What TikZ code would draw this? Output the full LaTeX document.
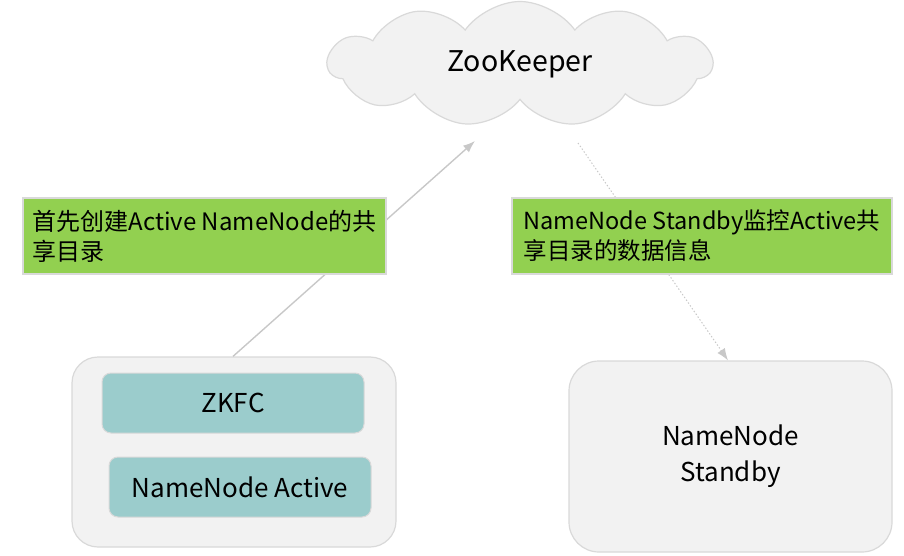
\documentclass[tikz,border=0pt]{standalone}
\usepackage{fontspec}
\setmainfont{Noto Sans CJK SC}
\usetikzlibrary{shapes.symbols,arrows.meta}

\definecolor{boxgray}{HTML}{F2F2F2}
\definecolor{edgegray}{HTML}{D9D9D9}
\definecolor{notegreen}{HTML}{92D050}
\definecolor{nodeteal}{HTML}{9BCCCC}
\definecolor{linkgray}{HTML}{C8C8C8}

\tikzset{
  hostbox/.style={draw=edgegray, line width=1.2pt, fill=boxgray, rounded corners=26pt},
  rolebox/.style={draw=edgegray, line width=1pt, fill=nodeteal, rounded corners=9pt,
    minimum width=262pt, minimum height=60pt, font=\fontsize{26}{30}\selectfont},
  notebox/.style={draw=edgegray, line width=2pt, fill=notegreen, anchor=north west,
    minimum width=363pt, minimum height=76pt, align=left,
    font=\fontsize{24}{30}\selectfont},
  link/.style={linkgray, line width=1.4pt, -{Latex[length=12pt,width=9pt]}}
}

\begin{document}
\begin{tikzpicture}[x=1pt, y=-1pt]
\useasboundingbox (0,0) rectangle (904,556);

%cloud
\node[cloud, cloud puffs=11, cloud puff arc=110, aspect=3.6, draw=edgegray, line width=1.2pt,
  fill=boxgray, minimum width=384pt, minimum height=125pt,
  font=\fontsize{28.5}{34}\selectfont] (zk) at (520,64) {ZooKeeper};

%anchor points on the cloud side
\coordinate (zkin) at (475,141);
\coordinate (zkout) at (578,143);

%hosts
\node[hostbox, minimum width=324pt, minimum height=190pt] (activehost) at (234,452) {};
\node[hostbox, minimum width=323pt, minimum height=191pt, rounded corners=30pt,
  align=center, font=\fontsize{26}{36}\selectfont] (standby) at (730.5,456.5) {NameNode\\Standby};

%roles
\node[rolebox] (zkfc) at (233,403) {ZKFC};
\node[rolebox] (nnactive) at (240,487) {NameNode Active};

%links
\draw[link] (activehost.north -| 233,0) -- (zkin);
\draw[link, dotted, line width=1pt] (zkout) -- (standby.north -| 728,0);

%notes
\node[notebox] (note1) at (22,197) {首先创建Active NameNode的共\\享目录};
\node[notebox, minimum width=380pt, font=\fontsize{23.5}{30}\selectfont] (note2) at (511,197) {NameNode Standby监控Active共\\享目录的数据信息};

\end{tikzpicture}
\end{document}
